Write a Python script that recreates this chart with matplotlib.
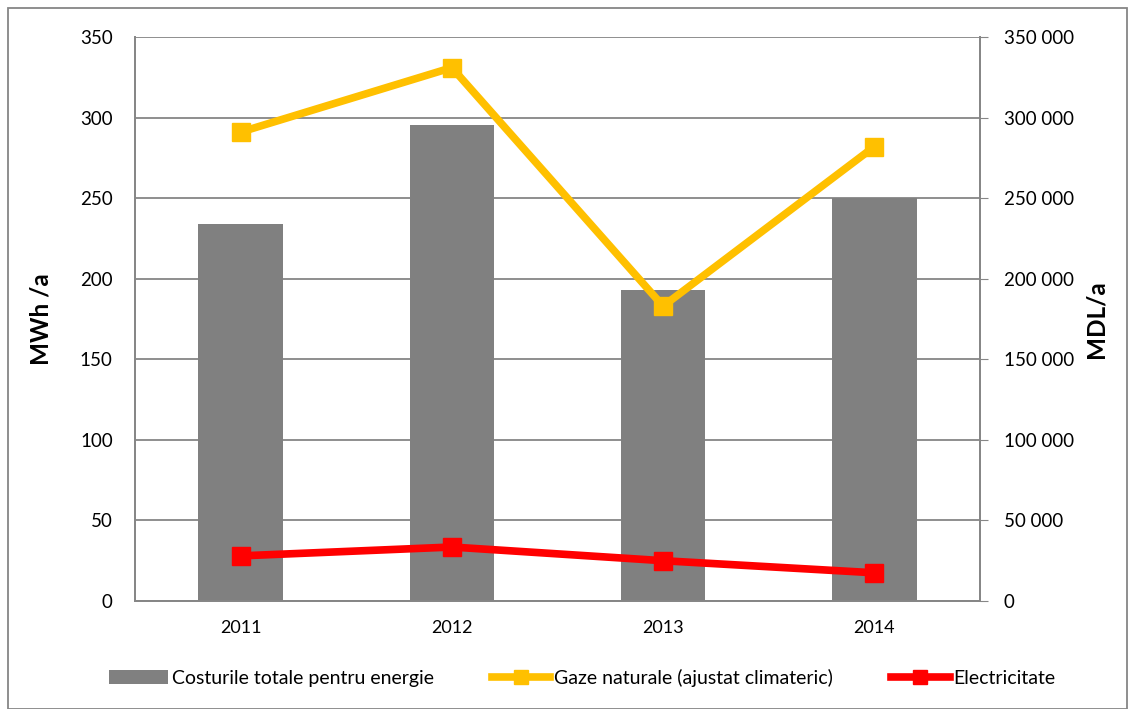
import matplotlib
matplotlib.use("Agg")
import matplotlib.pyplot as plt
from matplotlib.patches import Rectangle
from matplotlib.ticker import FuncFormatter

years = ["2011", "2012", "2013", "2014"]
costs_mdl = [234000, 295400, 193000, 250100]
gas_mwh = [291, 331, 183, 282]
elec_mwh = [28, 33.5, 25, 17.5]

plt.rcParams['font.family'] = ['Lato', 'DejaVu Sans']

fig = plt.figure(figsize=(11.31, 7.09), dpi=100)
W, H = 1131, 709
ax2 = fig.add_axes([135 / W, 1 - 601 / H, 845 / W, 564 / H])
ax = ax2.twinx()

grid_c = '#868686'
x = list(range(len(years)))

# bars on the MDL axis (right)
ax2.bar(x, costs_mdl, width=0.4, color='#808080', zorder=2, label='Costurile totale pentru energie')
ax2.set_ylim(0, 350000)
ax2.set_xlim(-0.5, 3.5)
ax2.set_yticks(range(0, 350001, 50000))
ax2.yaxis.set_major_formatter(FuncFormatter(lambda v, p: f"{int(v):,}".replace(",", " ")))
ax2.yaxis.tick_right()
ax2.yaxis.set_label_position('right')
ax2.grid(axis='y', color=grid_c, linewidth=1.3, zorder=0)
ax2.set_axisbelow(True)
ax2.set_ylabel('MDL/a', fontsize=17.5, fontweight='bold', labelpad=8)
ax2.tick_params(axis='y', which='both', direction='out', length=6, color=grid_c, labelsize=13.5, pad=11,
                left=False, right=True, labelleft=False, labelright=True)
ax2.set_xticks(x)
ax2.set_xticklabels(years)
ax2.tick_params(axis='x', length=0, labelsize=13, pad=14)

# lines on the MWh axis (left)
ax.set_zorder(ax2.get_zorder() + 1)
ax.patch.set_visible(False)
ax.plot(x, gas_mwh, color='#FFC000', linewidth=5.5, marker='s', markersize=12.5, label='Gaze naturale (ajustat climateric)')
ax.plot(x, elec_mwh, color='#FF0000', linewidth=5.5, marker='s', markersize=12.5, label='Electricitate')
ax.set_ylim(0, 350)
ax.set_yticks(range(0, 351, 50))
ax.yaxis.tick_left()
ax.yaxis.set_label_position('left')
ax.set_ylabel('MWh /a', fontsize=17.5, fontweight='bold', labelpad=20)
ax.tick_params(axis='y', length=0, labelsize=13.5, pad=16, left=False, right=False, labelleft=True, labelright=False)

for a in (ax, ax2):
    for s in a.spines.values():
        s.set_color(grid_c)
        s.set_linewidth(1.3)
    a.spines['top'].set_visible(False)

# legend
h1, l1 = ax2.get_legend_handles_labels()
h2, l2 = ax.get_legend_handles_labels()
fig.legend(h1 + h2, l1 + l2, loc='center', bbox_to_anchor=(0.515, 1 - 678 / H), ncol=3, frameon=False,
           fontsize=14, handlelength=3.0, handletextpad=0.2, columnspacing=3.0, markerscale=0.8)

# outer frame
fig.patches.append(Rectangle((8 / W, 0), 1 - 12 / W, 1 - 8 / H, transform=fig.transFigure,
                             fill=False, edgecolor=grid_c, linewidth=1.3))

fig.savefig('out.png', dpi=100)
